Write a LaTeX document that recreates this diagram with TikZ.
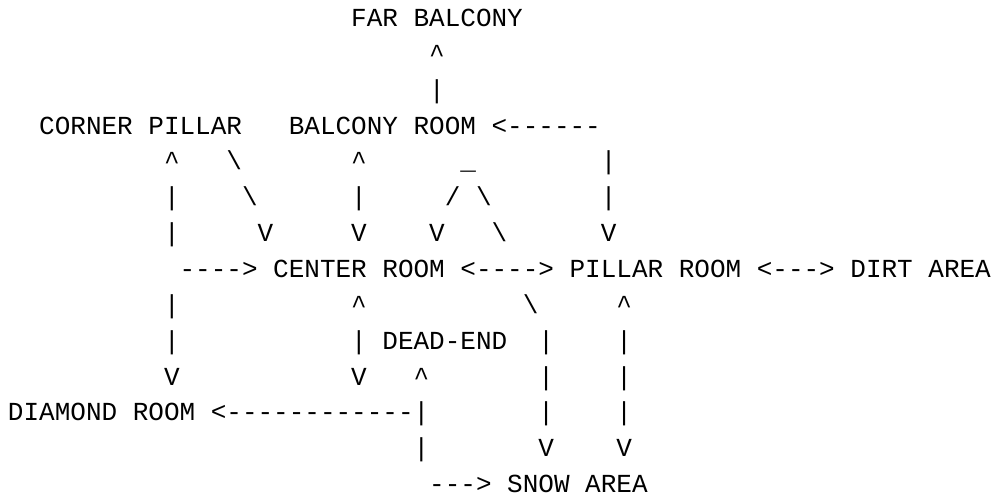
\documentclass[tikz,border=0pt]{standalone}
\usepackage{fontspec}
\setmonofont{Liberation Mono}
\begin{document}
\begin{tikzpicture}[x=15.6pt, y=-35.85pt,
  ch/.style={inner sep=0pt, outer sep=0pt, anchor=base west,
             font=\ttfamily\fontsize{26pt}{26pt}\selectfont, text=black},
  room/.style={ch}]
% one grid cell per character: x = column, y = text row (baseline)
\newcommand\gl[3]{\node[ch] (g-#2-#1) at (#1,#2) {#3};}
\useasboundingbox (-0.5128,-0.7392) rectangle (63.141,13.124);

% rooms
\node[room] (far)     at (22,0)  {FAR BALCONY};
\node[room] (corner)  at (2,3)   {CORNER PILLAR};
\node[room] (balcony) at (18,3)  {BALCONY ROOM};
\node[room] (center)  at (17,7)  {CENTER ROOM};
\node[room] (pillar)  at (36,7)  {PILLAR ROOM};
\node[room] (dirt)    at (54,7)  {DIRT AREA};
\node[room] (deadend) at (24,9)  {DEAD-END};
\node[room] (diamond) at (0,11)  {DIAMOND ROOM};
\node[room] (snow)    at (32,13) {SNOW AREA};

% passages drawn with characters
\gl{27}{1}{\textasciicircum}
\gl{27}{2}{|}
\gl{31}{3}{<------}

\gl{10}{4}{\textasciicircum}
\gl{14}{4}{\textbackslash}
\gl{22}{4}{\textasciicircum}
\gl{29}{4}{\_}
\gl{38}{4}{|}

\gl{10}{5}{|}
\gl{15}{5}{\textbackslash}
\gl{22}{5}{|}
\gl{28}{5}{/}
\gl{30}{5}{\textbackslash}
\gl{38}{5}{|}

\gl{10}{6}{|}
\gl{16}{6}{V}
\gl{22}{6}{V}
\gl{27}{6}{V}
\gl{31}{6}{\textbackslash}
\gl{38}{6}{V}

\gl{11}{7}{---->}
\gl{29}{7}{<---->}
\gl{48}{7}{<--->}

\gl{10}{8}{|}
\gl{22}{8}{\textasciicircum}
\gl{33}{8}{\textbackslash}
\gl{39}{8}{\textasciicircum}

\gl{10}{9}{|}
\gl{22}{9}{|}
\gl{34}{9}{|}
\gl{39}{9}{|}

\gl{10}{10}{V}
\gl{22}{10}{V}
\gl{26}{10}{\textasciicircum}
\gl{34}{10}{|}
\gl{39}{10}{|}

\gl{13}{11}{<------------|}
\gl{34}{11}{|}
\gl{39}{11}{|}

\gl{26}{12}{|}
\gl{34}{12}{V}
\gl{39}{12}{V}

\gl{27}{13}{--->}
\end{tikzpicture}
\end{document}
